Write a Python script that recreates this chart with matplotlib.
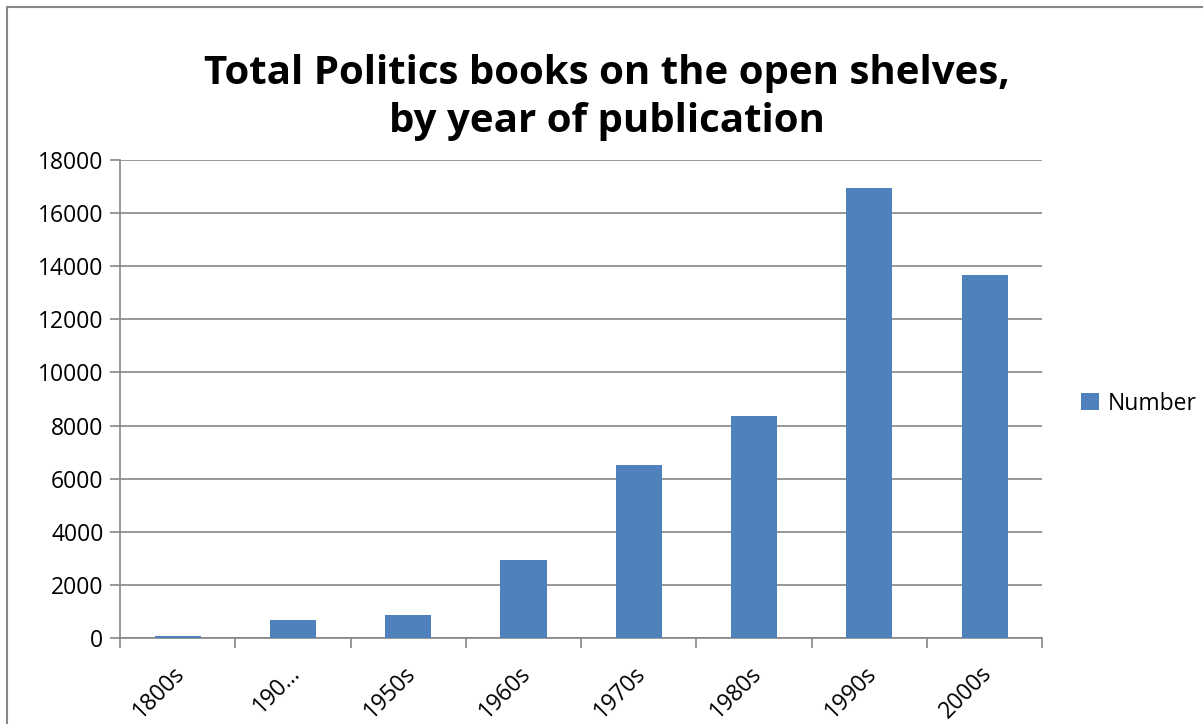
import numpy as np
import matplotlib.pyplot as plt
from matplotlib.patches import Rectangle

plt.rcParams['font.family'] = ['Open Sans', 'DejaVu Sans']

categories = ['1800s', '190…', '1950s', '1960s', '1970s', '1980s', '1990s', '2000s']
values = [60, 680, 880, 2940, 6510, 8360, 16950, 13670]
series_name = 'Number'

fig = plt.figure(figsize=(12.03, 7.24), dpi=100)
ax = fig.add_axes([0.0998, 0.1188, 0.7666, 0.6602])

grey = '#868686'
x = np.arange(len(categories))
ax.bar(x, values, width=0.4, color='#4F81BD', label=series_name, zorder=3)

ax.set_xlim(-0.5, len(categories) - 0.5)
ax.set_ylim(0, 18000)
ax.set_yticks(np.arange(0, 18001, 2000))
ax.yaxis.grid(True, color=grey, linewidth=1.2, zorder=0)
ax.tick_params(axis='y', length=7, width=1.2, color=grey, labelsize=16.5, pad=5)

# category labels at centres, ticks at boundaries
ax.set_xticks(x - 0.04)
ax.set_xticklabels(categories, rotation=45, ha='right', rotation_mode='anchor', fontsize=16.5)
ax.tick_params(axis='x', which='major', length=0, pad=17)
ax.set_xticks(np.arange(-0.5, len(categories)), minor=True)
ax.tick_params(axis='x', which='minor', length=7, width=1.2, color=grey)

for s in ['top', 'right']:
    ax.spines[s].set_visible(False)
for s in ['left', 'bottom']:
    ax.spines[s].set_color(grey)
    ax.spines[s].set_linewidth(1.2)

fig.text(0.5045, 0.866, 'Total Politics books on the open shelves,\nby year of publication',
         ha='center', va='center', fontsize=29, fontweight='bold', linespacing=1.3)

ax.legend(loc='center left', bbox_to_anchor=(1.03, 0.49), frameon=False, fontsize=16.5,
          handlelength=0.75, handleheight=0.75, handletextpad=0.4, borderpad=0)

# outer chart border
fig.patches.append(Rectangle((7 / 1203, -0.1), 1.2, 1 - 7 / 724 + 0.1,
                             transform=fig.transFigure, fill=False,
                             edgecolor='#888888', linewidth=1.5))

fig.savefig('out.png', dpi=100)
